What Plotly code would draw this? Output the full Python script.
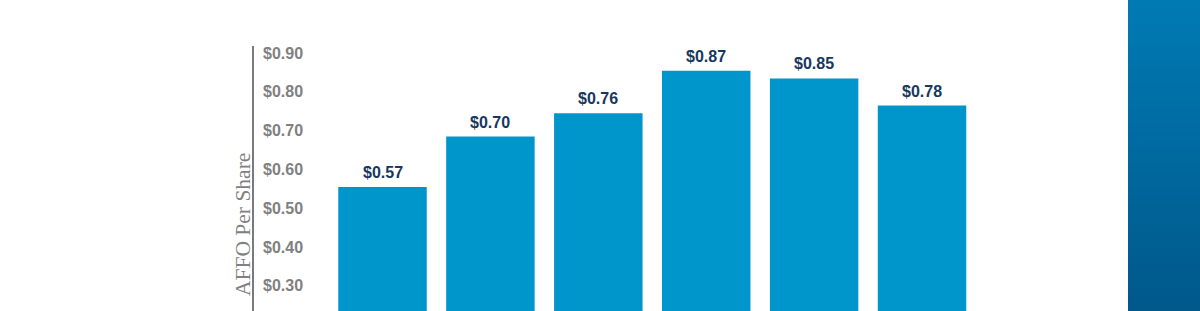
import plotly.graph_objects as go

categories = ["P1", "P2", "P3", "P4", "P5", "P6"]
affo_values = [0.57, 0.70, 0.76, 0.87, 0.85, 0.78]
label_texts = ["$0.57", "$0.70", "$0.76", "$0.87", "$0.85", "$0.78"]
tick_values = [0.30, 0.40, 0.50, 0.60, 0.70, 0.80, 0.90]
tick_labels = ["$0.30", "$0.40", "$0.50", "$0.60", "$0.70", "$0.80", "$0.90"]

W, H = 1200, 311
ML, MR, MT, MB = 254, 72, 20, 0
PW, PH = W - ML - MR, H - MT - MB
AXIS_TOP_PX = 46

fig = go.Figure()
fig.add_trace(go.Bar(
    x=categories, y=affo_values,
    marker=dict(color="#0096cc", line=dict(width=0)),
    hoverinfo="skip",
))

annotations = []
for c, v, t in zip(categories, affo_values, label_texts):
    annotations.append(dict(
        x=c, y=v, xref="x", yref="y", text=t, showarrow=False,
        yanchor="bottom", xanchor="center", yshift=4,
        font=dict(family="Liberation Sans", size=16, color="#17375e", weight="bold"),
    ))
annotations.append(dict(
    x=0, y=(H - 225) / PH, xref="paper", yref="paper", text="AFFO Per Share",
    showarrow=False, textangle=-90, xanchor="center", yanchor="middle", xshift=-11,
    font=dict(family="Liberation Serif", size=21.5, color="#808080"),
))

shapes = []
# y axis line (starts below the top of the plot area)
shapes.append(dict(type="line", xref="paper", yref="paper", x0=-1 / PW, x1=-1 / PW,
                   y0=0, y1=(H - AXIS_TOP_PX) / PH,
                   line=dict(color="#7a7a7a", width=2)))

# gradient strip on the right
n = 40
x0 = 1.0
x1 = 1.0 + MR / PW
ytop = 1.0 + MT / PH
top_rgb = (0, 122, 179)
bot_rgb = (0, 88, 139)
for i in range(n):
    f = i / (n - 1)
    r = round(top_rgb[0] + (bot_rgb[0] - top_rgb[0]) * f)
    g = round(top_rgb[1] + (bot_rgb[1] - top_rgb[1]) * f)
    b = round(top_rgb[2] + (bot_rgb[2] - top_rgb[2]) * f)
    ya = ytop - ytop * i / n
    yb = ytop - ytop * (i + 1) / n
    shapes.append(dict(type="rect", xref="paper", yref="paper",
                       x0=x0, x1=x1, y0=max(yb - 0.015, 0), y1=ya,
                       fillcolor=f"rgb({r},{g},{b})", line=dict(width=0), layer="above"))

fig.update_layout(
    width=W, height=H,
    margin=dict(l=ML, r=MR, t=MT, b=MB, pad=0),
    paper_bgcolor="white", plot_bgcolor="white",
    showlegend=False, bargap=0.18,
    annotations=annotations, shapes=shapes,
    xaxis=dict(range=[-1.191, 6.909], showticklabels=False, showgrid=False,
               zeroline=False, showline=False, ticks=""),
    yaxis=dict(range=[0.2502, 1.0008], tickvals=tick_values, ticktext=tick_labels,
               ticklabelposition="inside", ticklabelshift=-6, ticks="", showgrid=False,
               zeroline=False, showline=False, ticklabelstandoff=6,
               tickfont=dict(family="Liberation Sans", size=16, color="#808080", weight="bold")),
)

fig.write_html("out.html", config={"displayModeBar": False})
